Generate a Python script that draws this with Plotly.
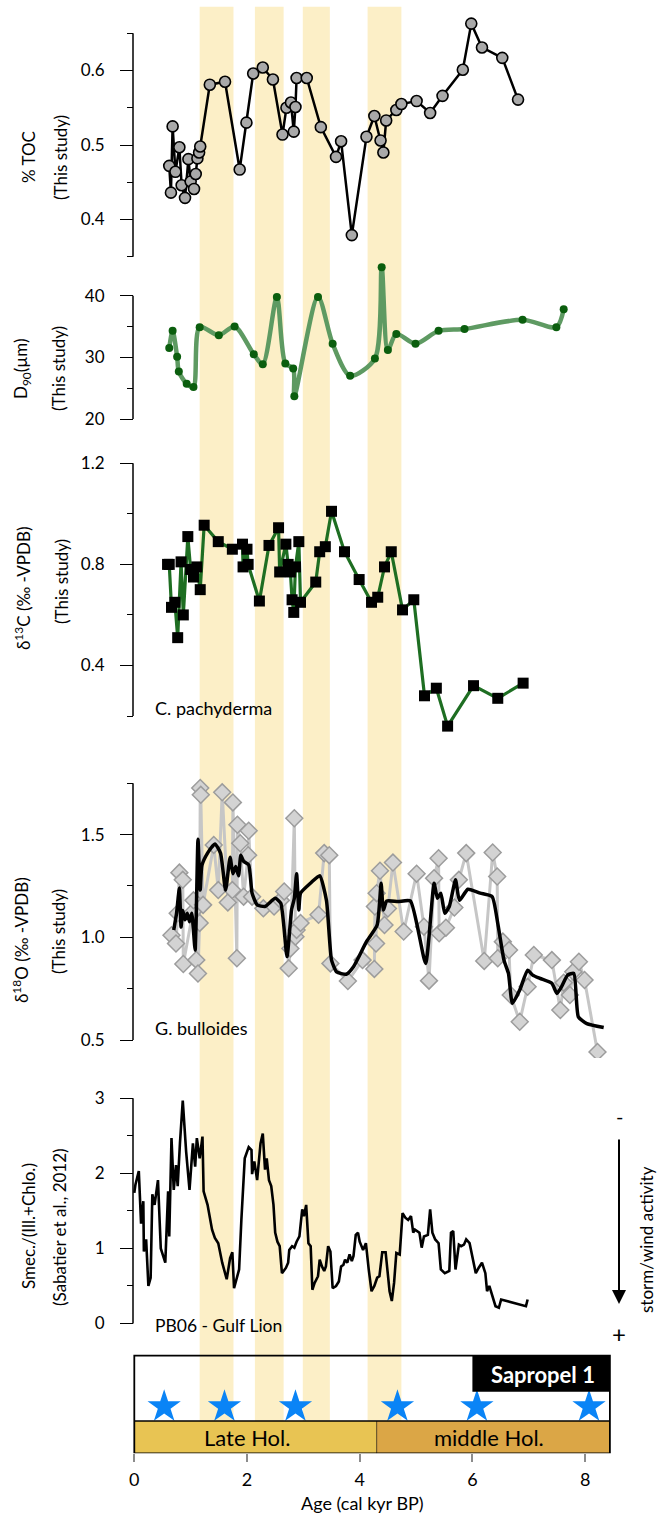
import plotly.graph_objects as go

# ---------------- data (ages in cal kyr BP) ----------------
TOC_AGE = [0.62, 0.65, 0.68, 0.73, 0.80, 0.84, 0.90, 0.96, 1.00, 1.06,
           1.09, 1.12, 1.15, 1.17, 1.34, 1.61, 1.87, 1.99, 2.11, 2.28,
           2.46, 2.63, 2.70, 2.78, 2.83, 2.86, 2.88, 3.06, 3.31, 3.58,
           3.67, 3.86, 4.12, 4.26, 4.37, 4.42, 4.47, 4.65, 4.74, 5.01,
           5.25, 5.47, 5.83, 5.98, 6.17, 6.53, 6.81]
TOC_VAL = [0.472, 0.436, 0.525, 0.464, 0.497, 0.446, 0.429, 0.481, 0.451, 0.441,
           0.461, 0.482, 0.490, 0.498, 0.581, 0.585, 0.467, 0.530, 0.596, 0.604,
           0.588, 0.514, 0.550, 0.557, 0.518, 0.551, 0.590, 0.590, 0.524, 0.484,
           0.505, 0.379, 0.511, 0.539, 0.506, 0.490, 0.533, 0.547, 0.555, 0.559,
           0.543, 0.566, 0.601, 0.663, 0.631, 0.617, 0.561]

D90_AGE = [0.62, 0.68, 0.76, 0.79, 0.93, 1.05, 1.16, 1.50, 1.78, 2.12,
           2.28, 2.53, 2.68, 2.82, 2.84, 3.26, 3.52, 3.83, 4.27, 4.39,
           4.50, 4.65, 4.99, 5.40, 5.86, 6.89, 7.49, 7.62]
D90_VAL = [31.5, 34.3, 30.1, 27.7, 25.7, 25.2, 34.9, 33.6, 35.0, 30.5,
           28.9, 39.8, 29.0, 28.2, 23.7, 39.8, 32.2, 27.0, 29.8, 44.6,
           31.2, 33.8, 32.2, 34.3, 34.6, 36.1, 34.9, 37.8]

C13_AGE = [0.59, 0.62, 0.66, 0.72, 0.77, 0.83, 0.87, 0.95, 1.00, 1.05,
           1.11, 1.17, 1.24, 1.49, 1.74, 1.92, 1.93, 2.00, 2.02, 2.22,
           2.39, 2.56, 2.58, 2.69, 2.73, 2.77, 2.80, 2.83, 2.86, 2.92,
           2.95, 3.22, 3.29, 3.39, 3.50, 3.73, 3.99, 4.21, 4.32, 4.44,
           4.56, 4.76, 4.96, 5.15, 5.36, 5.56, 6.02, 6.45, 6.90]
C13_VAL = [0.80, 0.80, 0.63, 0.65, 0.51, 0.81, 0.60, 0.91, 0.78, 0.75,
           0.79, 0.70, 0.955, 0.89, 0.86, 0.88, 0.79, 0.86, 0.80, 0.655,
           0.875, 0.945, 0.77, 0.88, 0.80, 0.77, 0.66, 0.61, 0.79, 0.89,
           0.65, 0.73, 0.85, 0.87, 1.01, 0.85, 0.74, 0.65, 0.67, 0.79,
           0.85, 0.62, 0.66, 0.28, 0.31, 0.16, 0.32, 0.27, 0.33]

O18_AGE = [0.66, 0.74, 0.77, 0.80, 0.86, 0.87, 1.04, 1.05, 1.10, 1.13,
           1.16, 1.17, 1.18, 1.22, 1.41, 1.49, 1.56, 1.66, 1.74, 1.75,
           1.82, 1.83, 1.88, 1.94, 2.02, 2.03, 2.09, 2.29, 2.48, 2.60,
           2.66, 2.74, 2.77, 2.84, 2.86, 2.88, 2.95, 3.27, 3.37, 3.46,
           3.48, 3.79, 4.05, 4.26, 4.27, 4.29, 4.30, 4.36, 4.44, 4.50,
           4.59, 4.78, 5.01, 5.14, 5.23, 5.32, 5.40, 5.41, 5.53, 5.68,
           5.76, 5.89, 6.21, 6.36, 6.44, 6.45, 6.54, 6.65, 6.68, 6.84,
           6.98, 7.09, 7.41, 7.56, 7.62, 7.73, 7.79, 7.89, 7.99, 8.22]
O18_VAL = [1.01, 0.97, 1.117, 1.315, 1.28, 0.87, 1.125, 1.18, 0.89, 0.824,
           1.07, 1.727, 1.694, 1.158, 1.45, 1.23, 1.706, 1.17, 1.23, 1.657,
           0.898, 1.548, 1.458, 1.198, 1.40, 1.519, 1.198, 1.141, 1.15, 1.18,
           1.223, 0.849, 0.946, 1.58, 1.003, 1.036, 1.07, 1.11, 1.41, 1.40,
           0.873, 0.787, 0.889, 0.846, 1.15, 0.97, 1.215, 1.324, 1.06, 1.14,
           1.364, 1.028, 1.31, 1.052, 0.789, 1.288, 1.385, 1.02, 1.047, 1.145,
           1.28, 1.41, 0.885, 1.413, 1.296, 0.898, 0.979, 0.938, 0.719, 0.589,
           0.759, 0.914, 0.889, 0.646, 0.779, 0.719, 0.832, 0.881, 0.792, 0.442]

O18S_AGE = [0.70, 0.75, 0.80, 0.83, 0.86, 0.90, 0.94, 0.98, 1.02,
            1.08, 1.13, 1.17, 1.20, 1.30, 1.43, 1.53, 1.62, 1.70, 1.75,
            1.80, 1.85, 1.89, 1.94, 2.03, 2.09, 2.18, 2.32, 2.50, 2.60,
            2.71, 2.79, 2.84, 2.88, 2.92, 2.95, 3.14, 3.29, 3.41, 3.50,
            3.59, 3.76, 3.89, 4.12, 4.31, 4.38, 4.42, 4.48, 4.68, 4.90,
            5.17, 5.32, 5.38, 5.44, 5.51, 5.59, 5.70, 5.77, 5.92, 6.14,
            6.35, 6.45, 6.56, 6.64, 6.71, 6.84, 6.98, 7.07, 7.20, 7.41,
            7.50, 7.58, 7.69, 7.80, 7.88, 8.03, 8.33]
O18S_VAL = [1.036, 1.117, 1.24, 1.05, 1.13, 1.085, 1.117, 1.076, 1.117,
            0.938, 1.478, 1.23, 1.35, 1.41, 1.455, 1.41, 1.23, 1.39, 1.31,
            1.345, 1.30, 1.40, 1.37, 1.353, 1.215, 1.158, 1.15, 1.19, 1.166,
            0.906, 1.133, 1.19, 1.31, 1.133, 1.215, 1.267, 1.30, 1.18, 0.889,
            0.832, 0.82, 0.857, 0.979, 1.06, 1.263, 1.133, 1.177, 1.174, 1.177,
            0.873, 1.263, 1.19, 1.215, 1.117, 1.15, 1.28, 1.18, 1.234, 1.215,
            1.198, 1.068, 0.889, 0.824, 0.678, 0.743, 0.84, 0.816, 0.80, 0.776,
            0.727, 0.759, 0.816, 0.824, 0.613, 0.58, 0.561]

SMEC_AGE = [0.00, 0.02, 0.08, 0.12, 0.16, 0.17, 0.21, 0.25, 0.29, 0.32,
            0.36, 0.38, 0.42, 0.47, 0.55, 0.60, 0.62, 0.66, 0.70, 0.74,
            0.77, 0.81, 0.86, 0.92, 0.98, 1.04, 1.08, 1.11, 1.16, 1.21,
            1.23, 1.30, 1.34, 1.38, 1.43, 1.49, 1.56, 1.64, 1.70, 1.74,
            1.77, 1.86, 1.90, 1.96, 2.03, 2.08, 2.09, 2.13, 2.18, 2.24,
            2.28, 2.32, 2.35, 2.39, 2.43, 2.47, 2.50, 2.54, 2.58, 2.62,
            2.69, 2.73, 2.75, 2.80, 2.84, 2.88, 2.93, 2.98, 3.01, 3.05,
            3.09, 3.13, 3.16, 3.20, 3.26, 3.29, 3.33, 3.37, 3.40, 3.44,
            3.48, 3.52, 3.58, 3.63, 3.67, 3.71, 3.74, 3.78, 3.82, 3.86,
            3.89, 3.93, 3.97, 4.00, 4.06, 4.11, 4.16, 4.21, 4.26, 4.31,
            4.35, 4.40, 4.46, 4.53, 4.57, 4.61, 4.65, 4.71, 4.76, 4.81,
            4.86, 4.91, 4.95, 4.98, 5.06, 5.10, 5.14, 5.21, 5.25, 5.29,
            5.34, 5.40, 5.44, 5.51, 5.59, 5.62, 5.66, 5.70, 5.76, 5.80,
            5.85, 5.89, 5.95, 6.00, 6.06, 6.11, 6.17, 6.23, 6.26, 6.30,
            6.36, 6.41, 6.47, 6.51, 6.95, 6.98]
SMEC_VAL = [1.74, 1.85, 2.03, 1.33, 1.63, 0.96, 1.12, 0.50, 0.61, 1.72,
            1.58, 1.69, 1.91, 1.00, 0.81, 1.76, 1.16, 2.47, 1.78, 2.11,
            1.83, 2.40, 2.97, 2.29, 1.78, 2.40, 2.09, 2.47, 2.20, 2.49,
            1.76, 1.58, 1.43, 1.25, 1.14, 1.07, 0.81, 0.59, 0.87, 0.95,
            0.47, 0.72, 1.38, 2.20, 2.35, 2.31, 1.99, 2.16, 1.91, 2.40,
            2.53, 2.05, 2.20, 1.91, 1.83, 1.58, 1.21, 1.09, 1.03, 0.67,
            0.74, 0.81, 0.98, 1.03, 1.01, 1.09, 1.16, 1.52, 1.43, 1.58,
            1.07, 1.03, 0.45, 0.54, 0.63, 0.85, 0.76, 0.70, 0.76, 1.03,
            0.96, 0.47, 0.50, 0.56, 0.76, 0.78, 0.85, 0.81, 0.92, 0.83,
            0.90, 1.18, 1.21, 1.09, 0.98, 1.07, 0.72, 0.43, 0.50, 0.61,
            0.63, 0.95, 0.95, 0.43, 0.30, 0.54, 0.94, 0.92, 1.47, 1.41,
            1.38, 1.43, 1.21, 1.25, 1.21, 1.01, 1.16, 1.18, 1.52, 1.21,
            1.12, 1.07, 0.72, 0.67, 0.70, 1.21, 1.23, 0.72, 1.05, 1.03,
            1.05, 1.12, 1.07, 0.90, 0.67, 0.74, 0.81, 0.67, 0.43, 0.50,
            0.36, 0.23, 0.21, 0.32, 0.23, 0.32]

BAND_START = [1.16, 2.14, 2.99, 4.14]
BAND_END = [1.76, 2.65, 3.47, 4.74]
STAR_AGES = [0.53, 1.60, 2.86, 4.67, 6.08, 8.07]
LATE_HOL = [0.0, 4.30]
MIDDLE_HOL = [4.30, 8.44]
SAPROPEL = [6.0, 8.44]
X_TICKS = [0, 2, 4, 6, 8]

# ---------------- layout helpers (page pixels) ----------------
W, H = 658, 1515
X0_PX, PX_PER_KYR = 134.3, 56.35
AXIS_X_PX = 133.0
FONT = "Lato"


def py(p):
    return 1 - p / H


def yaxis_cfg(v_top, p_top, v_bot, p_bot, dom_top, dom_bot, major, major_txt, minor):
    slope = (v_top - v_bot) / (p_bot - p_top)
    hi = v_top + (p_top - dom_top) * slope
    lo = v_bot - (dom_bot - p_bot) * slope
    return dict(domain=[py(dom_bot), py(dom_top)], range=[lo, hi], anchor="free",
                position=AXIS_X_PX / W, showgrid=False, zeroline=False, showline=False,
                tickmode="array", tickvals=major, ticktext=major_txt, ticks="outside",
                ticklen=13, tickwidth=1.4, tickcolor="black",
                tickfont=dict(size=17, color="black", family=FONT), ticklabelstandoff=12,
                minor=dict(tickmode="array", tickvals=minor, ticks="outside", ticklen=6,
                           tickwidth=1.4, tickcolor="black", showgrid=False),
                fixedrange=True)


fig = go.Figure()

# TOC
fig.add_trace(go.Scatter(x=TOC_AGE, y=TOC_VAL, xaxis="x", yaxis="y", mode="lines+markers",
                         line=dict(color="black", width=2.5),
                         marker=dict(symbol="circle", size=11, color="#A9A9A9",
                                     line=dict(color="black", width=1.6))))
# D90
fig.add_trace(go.Scatter(x=D90_AGE, y=D90_VAL, xaxis="x", yaxis="y2", mode="lines",
                         line=dict(color="#5E9A62", width=4.5, shape="spline", smoothing=0.8)))
fig.add_trace(go.Scatter(x=D90_AGE, y=D90_VAL, xaxis="x", yaxis="y2", mode="markers",
                         marker=dict(size=8, color="#0B5E0E")))
# d13C
fig.add_trace(go.Scatter(x=C13_AGE, y=C13_VAL, xaxis="x", yaxis="y3", mode="lines+markers",
                         line=dict(color="#1E6E22", width=3.2),
                         marker=dict(symbol="square", size=11, color="black")))
# d18O
fig.add_trace(go.Scatter(x=O18_AGE, y=O18_VAL, xaxis="x", yaxis="y4", mode="lines+markers",
                         line=dict(color="#C6C6C6", width=3),
                         marker=dict(symbol="diamond", size=13, color="#D3D3D3",
                                     line=dict(color="#9C9C9C", width=1.5))))
fig.add_trace(go.Scatter(x=O18S_AGE, y=O18S_VAL, xaxis="x", yaxis="y4", mode="lines",
                         line=dict(color="black", width=3.5, shape="spline", smoothing=0.5)))
# Smectite
fig.add_trace(go.Scatter(x=SMEC_AGE, y=SMEC_VAL, xaxis="x", yaxis="y5", mode="lines",
                         line=dict(color="black", width=2.6)))

# bottom box axis in page-pixel units
BOX_TOP, BOX_MID, BOX_BOT = 1355.7, 1421.0, 1453.3
SAP_BOT = 1391.7
STAR_ROW = 1406.7
fig.add_trace(go.Scatter(x=STAR_AGES, y=[STAR_ROW] * len(STAR_AGES), xaxis="x", yaxis="y6",
                         mode="markers", marker=dict(symbol="star", size=25, color="#0A84F6",
                                                     line=dict(width=0))))

shapes = []
for a, b in zip(BAND_START, BAND_END):
    shapes.append(dict(type="rect", xref="x", yref="paper", x0=a, x1=b, y0=py(BOX_MID), y1=py(6.7),
                       fillcolor="#FCEFC7", line=dict(width=0), layer="below"))
shapes.append(dict(type="rect", xref="x", yref="y6", x0=LATE_HOL[0], x1=LATE_HOL[1], y0=BOX_MID, y1=BOX_BOT,
                   fillcolor="#E8C453", line=dict(width=0), layer="below"))
shapes.append(dict(type="rect", xref="x", yref="y6", x0=MIDDLE_HOL[0], x1=MIDDLE_HOL[1], y0=BOX_MID, y1=BOX_BOT,
                   fillcolor="#DBA646", line=dict(width=0), layer="below"))
shapes.append(dict(type="line", xref="x", yref="y6", x0=LATE_HOL[1], x1=LATE_HOL[1], y0=BOX_MID, y1=BOX_BOT,
                   line=dict(color="#6E5A2E", width=1.2)))
shapes.append(dict(type="rect", xref="x", yref="y6", x0=SAPROPEL[0], x1=SAPROPEL[1], y0=BOX_TOP, y1=SAP_BOT,
                   fillcolor="black", line=dict(width=0)))
shapes.append(dict(type="line", xref="x", yref="y6", x0=0, x1=MIDDLE_HOL[1], y0=BOX_MID, y1=BOX_MID,
                   line=dict(color="black", width=1.5)))
shapes.append(dict(type="rect", xref="x", yref="y6", x0=0, x1=MIDDLE_HOL[1], y0=BOX_TOP, y1=BOX_BOT,
                   line=dict(color="black", width=1.8)))

# y axis lines (span exactly the tick range)
for yref, lo, hi in [("y", 0.35, 0.65), ("y2", 20, 40), ("y3", 0.2, 1.2), ("y4", 0.5, 1.75), ("y5", 0, 3)]:
    shapes.append(dict(type="line", xref="paper", yref=yref, x0=AXIS_X_PX / W, x1=AXIS_X_PX / W,
                       y0=lo, y1=hi, line=dict(color="black", width=1.5)))

annotations = []


def ann(text, x_px, y_px, size, angle=0, color="black", xanchor="center", xref="paper"):
    annotations.append(dict(text=text, x=(x_px / W if xref == "paper" else x_px), y=py(y_px),
                            xref=xref, yref="paper",
                            showarrow=False, textangle=angle, xanchor=xanchor, yanchor="middle",
                            font=dict(size=size, color=color, family=FONT)))


# axis titles
ann("% TOC", 29, 157, 17, -90)
ann("(This study)", 60, 158, 17, -90)
ann("D<sub>90</sub>(µm)", 22, 369, 17, -90)
ann("(This study)", 58, 369, 17, -90)
ann("δ<sup>13</sup>C (‰ -VPDB)", 22, 588, 17, -90)
ann("(This study)", 61, 582, 17, -90)
ann("δ<sup>18</sup>O (‰ -VPDB)", 21, 940, 17, -90)
ann("(This study)", 58, 932, 17, -90)
ann("Smec./(Ill.+Chlo.)", 28, 1226, 17, -90)
ann("(Sabatier et al., 2012)", 59, 1227, 17, -90)

# in-panel labels
ann("C. pachyderma", 152.6, 708, 18, xanchor="left")
ann("G. bulloides", 153.3, 1028, 18, xanchor="left")
ann("PB06 - Gulf Lion", 152.6, 1325, 17.5, xanchor="left")

# right side
ann("-", 619, 1116, 20)
ann("+", 619, 1333, 24)
ann("storm/wind activity", 646, 1240, 17, -90)
annotations.append(dict(x=619 / W, y=py(1304), xref="paper", yref="paper", ax=0, ay=-166,
                        axref="pixel", ayref="pixel", text="", showarrow=True, arrowhead=2,
                        arrowsize=1.4, arrowwidth=2, arrowcolor="black"))

# bottom box texts
ann("Late Hol.", 2.0, 1437.5, 22, xref="x")
ann("middle Hol.", 6.3, 1437.5, 22, xref="x")
ann("<b>Sapropel 1</b>", 7.25, 1374, 22, color="white", xref="x")
ann("Age (cal kyr BP)", 4.05, 1503, 18, xref="x")

fig.update_layout(
    width=W, height=H, autosize=False, margin=dict(l=0, r=0, t=0, b=0),
    paper_bgcolor="white", plot_bgcolor="rgba(0,0,0,0)", showlegend=False,
    font=dict(family=FONT, color="black"),
    xaxis=dict(domain=[0, 1], range=[-X0_PX / PX_PER_KYR, (W - X0_PX) / PX_PER_KYR], anchor="y6",
               showgrid=False, zeroline=False, showline=False, tickmode="array", tickvals=X_TICKS,
               ticks="outside", ticklen=8, tickwidth=2, tickcolor="#8C8C8C",
               tickfont=dict(size=18, color="black", family=FONT), ticklabelstandoff=2, fixedrange=True),
    yaxis=yaxis_cfg(0.65, 33.3, 0.35, 256.7, 8, 262, [0.4, 0.5, 0.6], ["0.4", "0.5", "0.6"],
                    [0.35, 0.45, 0.55, 0.65]),
    yaxis2=yaxis_cfg(40, 295.7, 20, 419.0, 262, 428, [20, 30, 40], ["20", "30", "40"], [25, 35]),
    yaxis3=yaxis_cfg(1.2, 463.3, 0.2, 716.0, 438, 732, [0.4, 0.8, 1.2], ["0.4", "0.8", "1.2"],
                     [0.2, 0.6, 1.0]),
    yaxis4=yaxis_cfg(1.75, 783.3, 0.5, 1040.0, 765, 1058, [0.5, 1.0, 1.5], ["0.5", "1.0", "1.5"],
                     [0.75, 1.25, 1.75]),
    yaxis5=yaxis_cfg(3, 1098.3, 0, 1323.5, 1082, 1340, [0, 1, 2, 3], ["0", "1", "2", "3"],
                     [0.5, 1.5, 2.5]),
    yaxis6=dict(domain=[py(BOX_BOT), py(1340)], range=[BOX_BOT, 1340], anchor="x", visible=False,
                fixedrange=True),
    shapes=shapes, annotations=annotations,
)

fig.write_html("out.html")
